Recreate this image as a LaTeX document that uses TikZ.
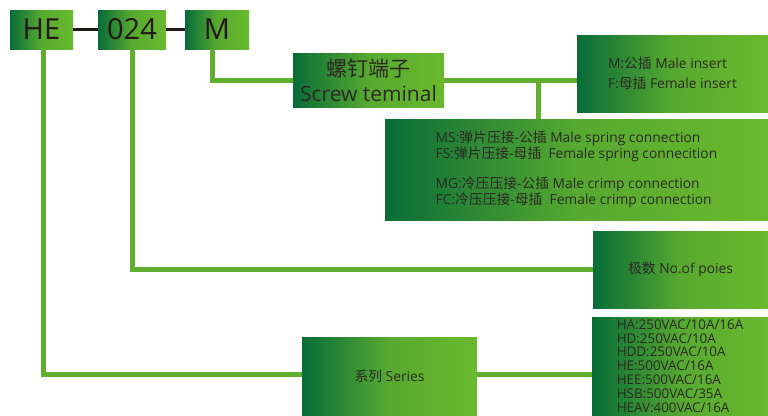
\documentclass[tikz,border=0pt]{standalone}
\usepackage{fontspec}
\setmainfont{Open Sans}
\newfontfamily\cjk{Noto Sans CJK SC}
\usepackage{tikz}
\usetikzlibrary{positioning, calc}
\definecolor{boxdark}{RGB}{8,108,56}
\definecolor{boxlight}{RGB}{106,185,46}
\definecolor{linegreen}{RGB}{96,174,46}
\definecolor{codeline}{RGB}{35,24,21}
\definecolor{txt}{RGB}{45,40,36}
\newcommand{\zh}[1]{{\cjk #1}}

\begin{document}
\begin{tikzpicture}[x=1pt, y=-1pt, thick,
    greenbox/.style={left color=boxdark, right color=boxlight, middle color=boxlight!80!boxdark,
      inner sep=0pt, text=txt, align=left},
    codebox/.style={greenbox, minimum height=39pt, text=codeline, font={\fontsize{29}{29}\selectfont}},
    infobox/.style={greenbox, font={\fontsize{13.8}{16}\selectfont}},
    wire/.style={draw=linegreen, line width=5pt},
    codelink/.style={draw=codeline, line width=3.5pt}]
  \useasboundingbox[fill=white] (0,0) rectangle (768,415);
  % code boxes
  \node[codebox, minimum width=63pt] (HE) at (41.5,29.5) {HE};
  \node[codebox, minimum width=68pt] (N024) at (132,29.5) {024};
  \node[codebox, minimum width=64pt] (M) at (217,29.5) {M};
  \draw[codelink] (HE.east) -- (N024.west);
  \draw[codelink] (N024.east) -- (M.west);
  % explanation boxes
  \node[greenbox, align=center, minimum width=151pt, minimum height=54pt,
    font={\fontsize{21}{25}\selectfont}] (screw) at (368.5,80) {\zh{螺钉端子}\\Screw teminal};
  \node[infobox, minimum width=191pt, minimum height=77pt,
    font={\fontsize{13.8}{20}\selectfont}] (MF) at (672.5,73.5) {M:\zh{公插} Male insert\\F:\zh{母插} Female insert};
  \node[infobox, minimum width=383pt, minimum height=101pt] (MS) at (576.5,169.5)
    {MS:\zh{弹片压接}-\zh{公插} Male spring connection\\FS:\zh{弹片压接}-\zh{母插}~ Female spring connecition\\[14pt]
     MG:\zh{冷压压接}-\zh{公插} Male crimp connection\\FC:\zh{冷压压接}-\zh{母插}~ Female crimp connection};
  \node[infobox, minimum width=175pt, minimum height=77pt] (poles) at (680.5,269.5) {\zh{极数} No.of poies};
  \node[infobox, minimum width=175pt, minimum height=78pt] (series) at (389.5,376) {\zh{系列} Series};
  \node[infobox, minimum width=176pt, minimum height=98pt,
    font={\fontsize{13.4}{13.8}\selectfont}] (volt) at (680,366)
    {HA:250VAC/10A/16A\\HD:250VAC/10A\\HDD:250VAC/10A\\HE:500VAC/16A\\HEE:500VAC/16A\\HSB:500VAC/35A\\HEAV:400VAC/16A};
  % green wires
  \coordinate (split) at (538,80);
  \draw[wire] ([xshift=-5pt]M.south) |- (screw.west);
  \draw[wire] (screw.east) -- (screw.east -| MF.west);
  \draw[wire] (split) -- (split |- MS.north);
  \draw[wire] ([xshift=1.5pt]HE.south) |- ([yshift=2pt]series.west);
  \draw[wire] (N024.south) |- (poles.west);
  \draw[wire] ([yshift=2pt]series.east) -- ([yshift=2pt]series.east -| volt.west);
\end{tikzpicture}
\end{document}
